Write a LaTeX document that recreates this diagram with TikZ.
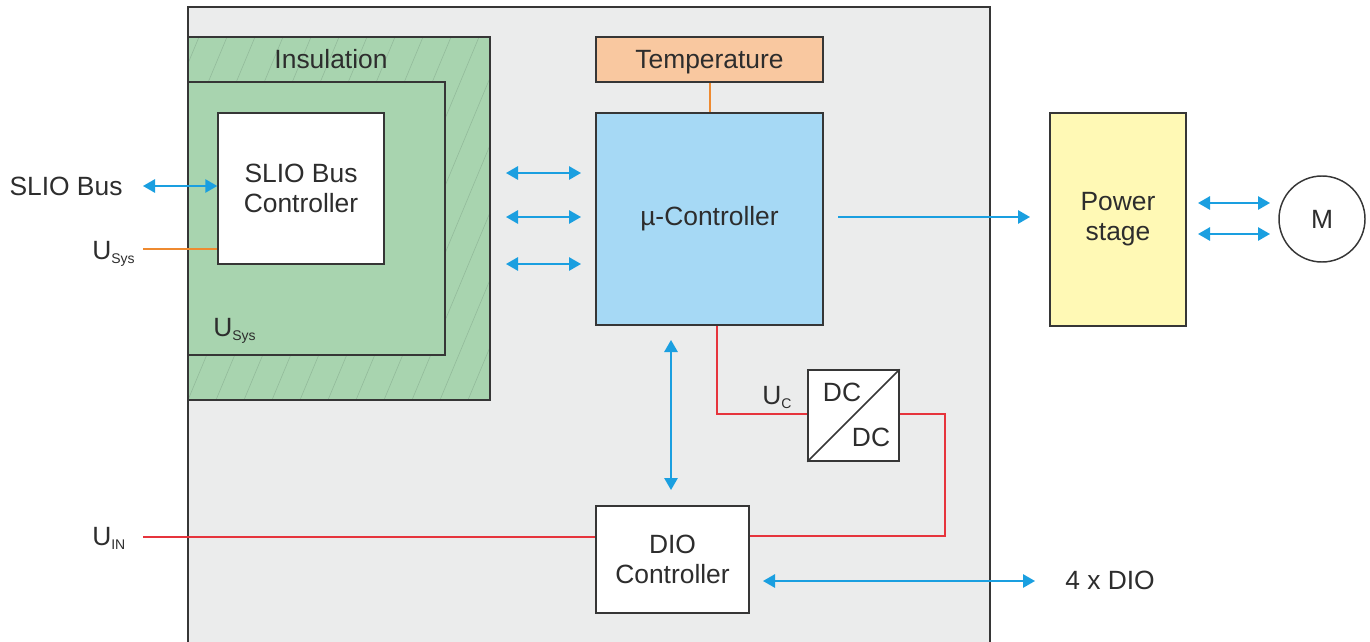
\documentclass[tikz,border=0pt]{standalone}
\usepackage{fontspec}
\setmainfont{Liberation Sans}
\usetikzlibrary{arrows.meta}
\definecolor{bggray}{HTML}{EBECEC}
\definecolor{insgreen}{HTML}{A8D4AF}
\definecolor{hatchc}{HTML}{93BB9B}
\definecolor{tempc}{HTML}{F9C8A0}
\definecolor{mcc}{HTML}{A6D9F5}
\definecolor{powc}{HTML}{FFF9B5}
\definecolor{bluec}{HTML}{1A9FE0}
\definecolor{orangec}{HTML}{EE8A30}
\definecolor{redc}{HTML}{E6343C}
\definecolor{borderc}{HTML}{363636}
\definecolor{textc}{HTML}{2D2D2D}
\tikzset{
  box/.style={draw=borderc, line width=1.1pt, inner sep=0pt, text=textc, align=center,
    font=\fontsize{19.8}{22.5}\selectfont},
  lbl/.style={text=textc, inner sep=0pt, font=\fontsize{19.8}{22.5}\selectfont},
  barrow/.style={draw=bluec, line width=1.4pt, {Triangle[length=9pt,width=10pt]}-{Triangle[length=9pt,width=10pt]}},
  sarrow/.style={draw=bluec, line width=1.4pt, -{Triangle[length=9pt,width=10pt]}},
  redline/.style={draw=redc, line width=1.5pt},
  orline/.style={draw=orangec, line width=1.5pt},
}
\newcommand{\subtx}[1]{\raisebox{-3pt}{\fontsize{10.5}{12}\selectfont #1}}
\begin{document}
\begin{tikzpicture}[x=0.75pt,y=-0.75pt]
\useasboundingbox (0,0) rectangle (1370,642);
% main gray area
\fill[bggray] (188,7) rectangle (990,642);
\draw[borderc, line width=1.1pt] (188,645) -- (188,7) -- (990,7) -- (990,645);
% insulation
\fill[insgreen] (188,37) rectangle (490,400);
\begin{scope}
  \clip (188,37) rectangle (490,400);
  \foreach \i in {-6,...,14} {
    \draw[hatchc, line width=0.45pt] (188+28*\i,400) -- ++(151,-363);
  }
\end{scope}
\draw[borderc, line width=1.1pt] (188,37) rectangle (490,400);
\draw[borderc, line width=1.1pt, fill=insgreen] (188,82) rectangle (445,355);
\node[lbl] (ins) at (331,59) {Insulation};
\node[lbl, anchor=base west] (usysin) at (213,336) {U\subtx{Sys}};
% nodes
\node[box, fill=white, minimum width=124.5pt, minimum height=113.25pt] (sbc) at (301,188.5) {SLIO Bus\\Controller};
\node[box, fill=tempc, minimum width=170.25pt, minimum height=33.75pt, text depth=0pt] (temp) at (709.5,59.5) {Temperature};
\node[box, fill=mcc, minimum width=170.25pt, minimum height=159pt] (mc) at (709.5,219) {µ-Controller};
\node[box, fill=powc, minimum width=102pt, minimum height=159.75pt] (pw) at (1118,219.5) {Power\\stage};
\node[box, circle, fill=white, minimum size=64.5pt] (mot) at (1322,219) {M};
\node[box, fill=white, minimum width=68.25pt, minimum height=68.25pt] (dc) at (853.5,415.5) {};
\draw[borderc, line width=1.1pt] (dc.south west) -- (dc.north east);
\node[lbl] (dc1) at (842,392) {DC};
\node[lbl] (dc2) at (871,437) {DC};
\node[box, fill=white, minimum width=114.75pt, minimum height=80.25pt] (dio) at (672.5,559.5) {DIO\\Controller};
% labels
\node[lbl] (slio) at (66,186) {SLIO Bus};
\node[lbl, anchor=base west] (usys) at (92,259) {U\subtx{Sys}};
\node[lbl, anchor=base west] (uc) at (762,404) {U\subtx{C}};
\node[lbl, anchor=base west] (uin) at (92,545) {U\subtx{IN}};
\node[lbl] (dio4) at (1110,580) {4 x DIO};
% coordinates
\coordinate (slioE) at (143,186);
\coordinate (usysE) at (143,249);
\coordinate (uinE) at (143,537);
\coordinate (a1) at (506,173); \coordinate (b1) at (581,173);
\coordinate (a2) at (506,217); \coordinate (b2) at (581,217);
\coordinate (a3) at (506,264); \coordinate (b3) at (581,264);
\coordinate (mcO) at (838,217); \coordinate (pwI) at (1030,217);
\coordinate (p1) at (1198,203); \coordinate (m1) at (1270,203);
\coordinate (p2) at (1198,234); \coordinate (m2) at (1270,234);
\coordinate (v1) at (671,340); \coordinate (v2) at (671,490);
\coordinate (d1) at (763,581); \coordinate (d2) at (1035,581);
% connectors
\draw[barrow] (slioE) -- (slioE -| sbc.west);
\draw[orline] (usysE) -- (usysE -| sbc.west);
\draw[orline] ([xshift=0.4pt]temp.south) -- ([xshift=0.4pt]mc.north);
\draw[barrow] (a1) -- (b1);
\draw[barrow] (a2) -- (b2);
\draw[barrow] (a3) -- (b3);
\draw[sarrow] (mcO) -- (pwI);
\draw[barrow] (p1) -- (m1);
\draw[barrow] (p2) -- (m2);
\draw[barrow] (v1) -- (v2);
\draw[barrow] (d1) -- (d2);
\draw[redline] ([xshift=5.6pt]mc.south) |- ([yshift=1.1pt]dc.west);
\draw[redline] ([yshift=1.1pt]dc.east) -- ++(45,0) |- ([yshift=17.6pt]dio.east);
\draw[redline] (uinE) -- (uinE -| dio.west);
\end{tikzpicture}
\end{document}
